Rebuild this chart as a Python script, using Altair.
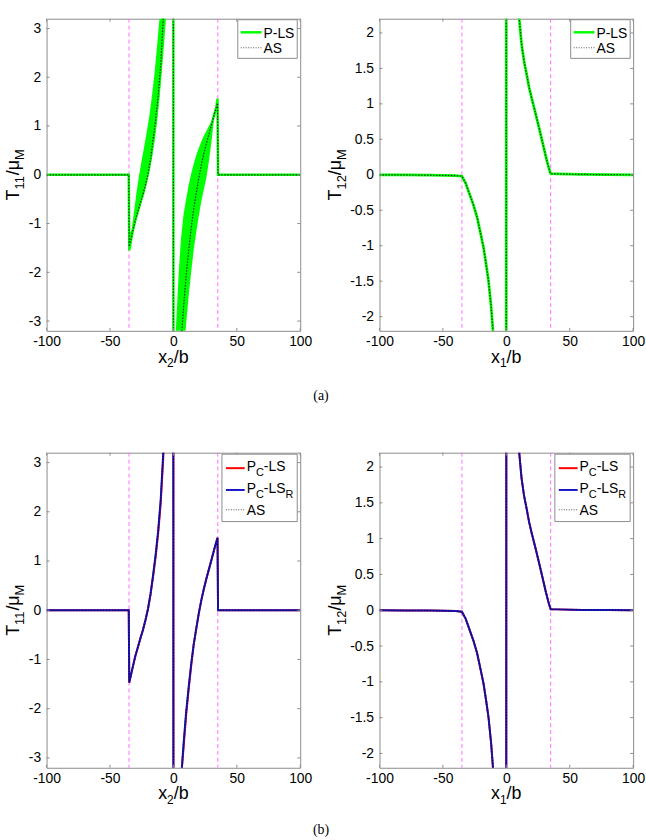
import altair as alt
import pandas as pd

# ---------------- data ----------------
X_TICKS = [-100, -50, 0, 50, 100]
T11_TICKS = [-3, -2, -1, 0, 1, 2, 3]
T12_TICKS = [-2, -1.5, -1, -0.5, 0, 0.5, 1, 1.5, 2]
BOUNDARIES = [-35, 35]

# T11/mu_M along x2/b
T11_X = [-100, -60, -35.2, -34.8, -32, -30, -28, -26, -24, -22, -20, -18, -16, -14,
         -12, -10, -8, -6, -4, -2, -0.4, 0.4, 2, 3, 4, 5, 6, 6.7, 8, 10, 12, 14, 16,
         18, 20, 22, 24, 26, 28, 30, 32, 34, 34.8, 35.2, 60, 100]
T11_PCLSR = [0, 0, 0, -1.47, -1.15, -0.93, -0.75, -0.57, -0.40, -0.20, 0.03, 0.33, 0.72,
             1.13, 1.62, 2.25, 3.2, 4.6, 7, 14, 60, -60, -10, -7, -5.3, -4.3, -3.65, -3.2,
             -2.72, -2.08, -1.57, -1.10, -0.70, -0.38, -0.07, 0.20, 0.43, 0.64, 0.83,
             1.02, 1.22, 1.40, 1.47, 0, 0, 0]
T11_PCLS = [0, 0, 0, -1.47, -1.15, -0.93, -0.75, -0.57, -0.40, -0.20, 0.03, 0.33, 0.68,
            1.08, 1.56, 2.17, 3.08, 4.5, 7, 14, 60, -60, -10, -7, -5.3, -4.3, -3.65, -3.2,
            -2.8, -2.15, -1.62, -1.14, -0.70, -0.38, -0.07, 0.20, 0.43, 0.64, 0.83,
            1.02, 1.22, 1.40, 1.47, 0, 0, 0]
T11_AS = [0, 0, 0, -1.47, -1.15, -0.93, -0.75, -0.57, -0.40, -0.20, 0.03, 0.33, 0.72,
          1.13, 1.62, 2.25, 3.2, 4.6, 7, 14, 60, -60, -10, -7, -5.3, -4.3, -3.65, -3.2,
          -2.72, -2.08, -1.57, -1.10, -0.70, -0.38, -0.07, 0.20, 0.43, 0.64, 0.83,
          1.02, 1.22, 1.40, 1.47, 0, 0, 0]
T11_PLS = [0, 0, 0, -1.55, -1.15, -0.93, -0.75, -0.57, -0.40, -0.20, 0.03, 0.33, 0.72,
           1.13, 1.62, 2.25, 3.2, 4.6, 7, 14, 60, -60, -10, -7, -5.3, -4.3, -3.65, -3.2,
           -2.72, -2.08, -1.57, -1.10, -0.70, -0.38, -0.07, 0.20, 0.43, 0.64, 0.83,
           1.02, 1.22, 1.40, 1.56, 0, 0, 0]

# oscillation envelope of P-LS (green band), left and right branches
BAND_L_X = [-34.8, -33, -31, -29, -27, -25, -23, -21, -19, -17, -15, -13, -11, -9, -7, -5, -3]
BAND_L_HI = [-1.2, -1.15, -0.75, -0.35, 0.0, 0.3, 0.58, 0.88, 1.2, 1.6, 2.05, 2.6, 3.2,
             4.0, 5.2, 7.0, 10.0]
BAND_L_LO = [-1.55, -1.22, -1.05, -0.88, -0.71, -0.53, -0.34, -0.14, 0.07, 0.33, 0.65,
             1.05, 1.55, 2.15, 2.8, 3.5, 4.5]
BAND_R_X = [2, 4, 6, 8, 10, 12, 14, 16, 18, 20, 22, 24, 26, 28, 30, 32, 33, 34, 34.8]
BAND_R_HI = [-3.15, -2.1, -1.3, -0.82, -0.5, -0.22, 0.02, 0.22, 0.40, 0.55, 0.68, 0.80,
             0.90, 1.0, 1.1, 1.18, 1.22, 1.42, 1.56]
BAND_R_LO = [-10, -6, -4.6, -3.7, -3.08, -2.5, -2.0, -1.55, -1.18, -0.85, -0.55, -0.30,
             -0.06, 0.28, 0.67, 1.15, 1.2, 1.3, 1.32]

# T12/mu_M along x1/b
T12_X = [-100, -80, -60, -40, -35, -32, -29, -26, -23, -20, -18, -16, -14, -12, -10.5,
         -9, -7, -5, -3, -1, -0.3, 0.3, 1, 3, 5, 7, 9, 10.2, 12, 14, 16, 18, 20, 23, 26,
         28.5, 31, 33, 34.5, 35, 40, 60, 80, 100]
T12_AS = [0, -0.002, -0.005, -0.012, -0.02, -0.12, -0.27, -0.42, -0.6, -0.85, -1.02,
          -1.25, -1.5, -1.85, -2.2, -2.6, -3.4, -4.5, -7, -20, -60, 60, 20, 7, 4.5, 3.2,
          2.5, 2.2, 1.85, 1.6, 1.42, 1.23, 1.08, 0.87, 0.65, 0.46, 0.27, 0.13, 0.04,
          0.015, 0.012, 0.005, 0.002, 0]
T12_PLS = list(T12_AS)
T12_PCLS = list(T12_AS)
T12_PCLSR = list(T12_AS)

# ---------------- style ----------------
FONT = "Liberation Sans"
SERIF = "Liberation Serif"
FRAME = "#8c8c8c"
GREEN = "#00ff00"
BLUE = "#1616c8"
RED = "#ff0000"
MAGENTA = "#ff70ff"
W = 256
H_TOP, H_BOT = 315, 318
ONE = pd.DataFrame({"k": [0]})

EM = {"x": 0.5, "1": 0.556, "2": 0.556, "/": 0.278, "b": 0.556, "T": 0.611, "μ": 0.576,
      "M": 0.833, "P": 0.667, "C": 0.722, "-": 0.333, "L": 0.556, "S": 0.667,
      "R": 0.722, "A": 0.667}


def tw(s, size):
    return sum(EM.get(c, 0.556) for c in s) * size


def txt(t, x, y, size, angle=0, font=FONT, align="left", baseline="alphabetic"):
    return alt.Chart(ONE).mark_text(
        text=t, font=font, fontSize=size, angle=angle, align=align,
        baseline=baseline, color="black"
    ).encode(x=alt.value(x), y=alt.value(y))


def pieces_h(pieces, x0, yb):
    out = []
    x = x0
    for t, size, dy in pieces:
        out.append(txt(t, x, yb + dy, size))
        x += tw(t, size)
    return out


def pieces_v(pieces, xb, ystart):
    out = []
    y = ystart
    for t, size, dx in pieces:
        out.append(txt(t, xb + dx, y, size, angle=270))
        y -= tw(t, size)
    return out


def panel(H, ydom, yticks, lines, band, legend, ysub, xsub, ytitle_x, caption=None,
          anchor=False):
    XS = alt.Scale(domain=[-100, 100], nice=False, zero=False)
    YS = alt.Scale(domain=ydom, nice=False, zero=False)
    XA = alt.Axis(values=X_TICKS, labelExpr="'' + datum.value", title=None, ticks=False,
                  domain=False, grid=False, labelFlush=False, labelOverlap=False,
                  labelPadding=4, labelFont=FONT, labelFontSize=14, labelColor="black")
    YA = alt.Axis(values=yticks, labelExpr="'' + datum.value", title=None, ticks=False,
                  domain=False, grid=False, labelFlush=False, labelOverlap=False,
                  labelPadding=6, labelFont=FONT, labelFontSize=14, labelColor="black")
    X = alt.X("x:Q", scale=XS, axis=XA)
    Y = alt.Y("y:Q", scale=YS, axis=YA)
    layers = []
    layers.append(alt.Chart(pd.DataFrame({"x": BOUNDARIES})).mark_rule(
        color=MAGENTA, strokeWidth=1, strokeDash=[4, 3]).encode(x=X))
    if band:
        for bx, blo, bhi in band:
            df = pd.DataFrame({"x": bx, "y": blo, "y2": bhi})
            layers.append(alt.Chart(df).mark_area(color=GREEN, opacity=1, clip=True)
                          .encode(x=X, y=Y, y2=alt.Y2("y2:Q")))
    for xs, ys, color, width, dash in lines:
        df = pd.DataFrame({"x": xs, "y": ys, "i": list(range(len(xs)))})
        kw = dict(color=color, strokeWidth=width, clip=True)
        if dash:
            kw["strokeDash"] = dash
        layers.append(alt.Chart(df).mark_line(**kw).encode(x=X, y=Y, order="i:Q"))
    # inward ticks on all four sides
    xt = pd.DataFrame({"x": X_TICKS})
    yt = pd.DataFrame({"y": yticks})
    layers.append(alt.Chart(xt).mark_rule(color=FRAME).encode(
        x=X, y=alt.value(H), y2=alt.value(H - 3)))
    layers.append(alt.Chart(xt).mark_rule(color=FRAME).encode(
        x=X, y=alt.value(0), y2=alt.value(3)))
    layers.append(alt.Chart(yt).mark_rule(color=FRAME).encode(
        y=Y, x=alt.value(0), x2=alt.value(3)))
    layers.append(alt.Chart(yt).mark_rule(color=FRAME).encode(
        y=Y, x=alt.value(W - 3), x2=alt.value(W)))
    # legend
    (bx1, by1, bx2, by2), lx1, lx2, tx, rows = legend
    layers.append(alt.Chart(ONE).mark_rect(fill="white", stroke=FRAME, strokeWidth=1)
                  .encode(x=alt.value(bx1), x2=alt.value(bx2), y=alt.value(by1),
                          y2=alt.value(by2)))
    for ly, color, width, dash, pieces, boff in rows:
        kw = dict(color=color, strokeWidth=width)
        if dash:
            kw["strokeDash"] = dash
        layers.append(alt.Chart(ONE).mark_rule(**kw).encode(
            x=alt.value(lx1), x2=alt.value(lx2), y=alt.value(ly)))
        layers += pieces_h(pieces, tx, ly + boff)
    # axis titles
    xp = [("x", 18, 0), (xsub, 12, 5), ("/b", 18, 0)]
    xw = sum(tw(t, s) for t, s, _ in xp)
    layers += pieces_h(xp, W / 2 - xw / 2, H + 32)
    yp = [("T", 18, 0), (ysub, 13, 5), ("/μ", 18, 0), ("M", 13, 5)]
    yw = sum(tw(t, s) for t, s, _ in yp)
    layers += pieces_v(yp, ytitle_x, H / 2 + yw / 2)
    if caption:
        layers.append(txt(caption[0], caption[1], caption[2], 14, font=SERIF,
                          align="center", baseline="middle"))
    if anchor:
        layers.append(alt.Chart(ONE).mark_rule(opacity=0, strokeWidth=0).encode(
            x=alt.value(-46), x2=alt.value(-45), y=alt.value(-14)))
    return alt.layer(*layers).properties(width=W, height=H)


LEG_A = lambda: ((193, 1, 253, 40), 196, 217, 219, [
    (13.7, GREEN, 2.5, None, [("P-LS", 14, 0)], 5.3),
    (29.3, "#555555", 1, [1, 1.5], [("AS", 14, 0)], 5.3),
])
LEG_B = lambda: ((177, 1.5, 253, 69.5), 181, 200, 202, [
    (15.6, RED, 2, None, [("P", 14, 0), ("C", 11, 5), ("-LS", 14, 0)], 3),
    (37.6, BLUE, 2, None, [("P", 14, 0), ("C", 11, 5), ("-LS", 14, 0), ("R", 11, 5)], 3),
    (57.6, "#555555", 1, [1, 1.5], [("AS", 14, 0)], 5),
])

p1 = panel(H_TOP, [-3.2, 3.2], T11_TICKS,
           [(T11_X, T11_PLS, GREEN, 2.5, None),
            (T11_X, T11_AS, "#113311", 1.2, [1.5, 1.5])],
           [(BAND_L_X, BAND_L_LO, BAND_L_HI), (BAND_R_X, BAND_R_LO, BAND_R_HI)],
           LEG_A(), "11", "2", -27.7, caption=("(a)", 277, 381), anchor=True)
p2 = panel(H_TOP, [-2.2, 2.2], T12_TICKS,
           [(T12_X, T12_PLS, GREEN, 2.8, None),
            (T12_X, T12_AS, "#113311", 1.2, [1.5, 1.5])],
           None, LEG_A(), "12", "1", -39)
p3 = panel(H_BOT, [-3.2, 3.2], T11_TICKS,
           [(T11_X, T11_PCLS, RED, 2, None),
            (T11_X, T11_PCLSR, BLUE, 2, None),
            (T11_X, T11_AS, "#000000", 1, [1, 2])],
           None, LEG_B(), "11", "2", -27.4, caption=("(b)", 277, 381))
p4 = panel(H_BOT, [-2.2, 2.2], T12_TICKS,
           [(T12_X, T12_PCLS, RED, 2, None),
            (T12_X, T12_PCLSR, BLUE, 2, None),
            (T12_X, T12_AS, "#000000", 1, [1, 2])],
           None, LEG_B(), "12", "1", -39)

chart = alt.concat(p1, p2, p3, p4, columns=2, spacing={"row": 123, "column": 80},
                   bounds="flush", padding=0).configure_view(stroke=FRAME, strokeWidth=1)

chart.save("out.html", embed_options={"renderer": "svg", "actions": False})
